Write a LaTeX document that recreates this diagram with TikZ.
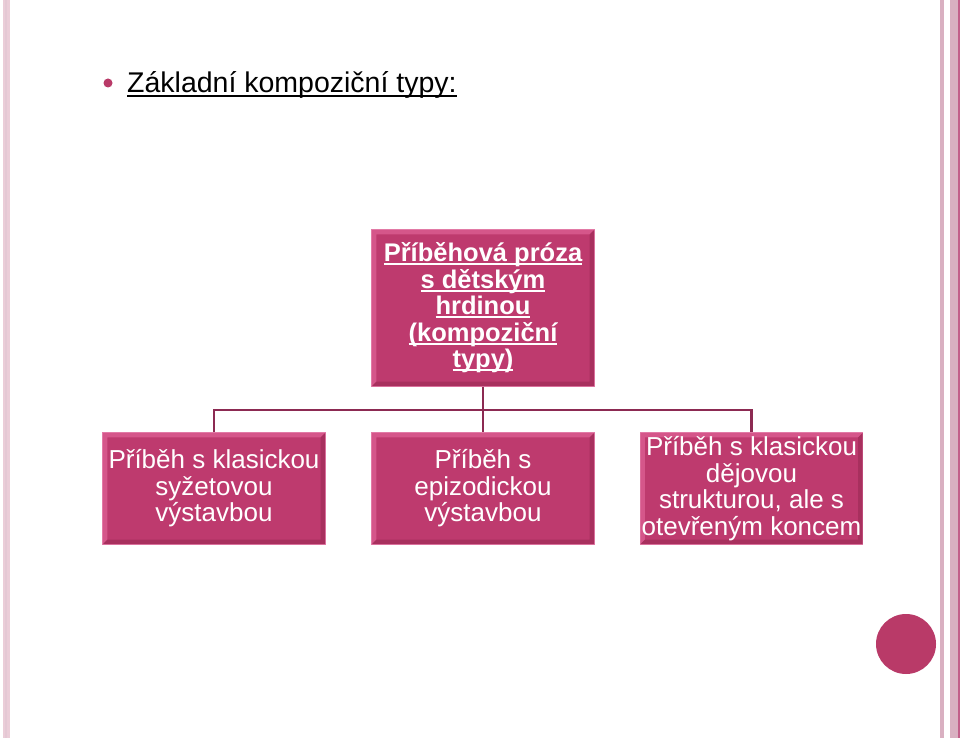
\documentclass[tikz,border=0pt]{standalone}
\usepackage{fontspec}
\setmainfont{Liberation Sans}
\newsavebox\ulbox
\newcommand\myul[1]{\sbox\ulbox{#1}\rlap{\rule[-0.13em]{\wd\ulbox}{0.07em}}\usebox\ulbox}
\definecolor{boxfill}{HTML}{BE3A6E}
\definecolor{boxedge}{HTML}{E27AA6}
\definecolor{bevlight}{HTML}{D5568A}
\definecolor{bevdark}{HTML}{A8305E}
\definecolor{linkcol}{HTML}{8C2A52}
\definecolor{dotcol}{HTML}{B93A68}
\definecolor{stripeA}{HTML}{EBCDD8}
\definecolor{stripeB}{HTML}{D9B0C1}
\definecolor{stripeC}{HTML}{C2608A}
\tikzset{
  pinkbox/.style={draw=boxedge, line width=1.2pt, fill=boxfill, text=white,
    minimum width=222pt, minimum height=111pt, inner sep=0pt, align=center,
    font=\fontsize{26}{26.5}\selectfont},
  topbox/.style={pinkbox, minimum height=156pt, font=\fontsize{25.5}{26.5}\selectfont\bfseries},
  link/.style={draw=linkcol, line width=2.8pt}
}
\newcommand\bevel[1]{%
  \fill[bevlight] ([shift={(0.6,0.6)}]#1.north west) -- ([shift={(-0.6,0.6)}]#1.north east)
     -- ([shift={(-5,5)}]#1.north east) -- ([shift={(5,5)}]#1.north west)
     -- ([shift={(5,-5)}]#1.south west) -- ([shift={(0.6,-0.6)}]#1.south west) -- cycle;
  \fill[bevdark] ([shift={(-0.6,-0.6)}]#1.south east) -- ([shift={(0.6,-0.6)}]#1.south west)
     -- ([shift={(5,-5)}]#1.south west) -- ([shift={(-5,-5)}]#1.south east)
     -- ([shift={(-5,5)}]#1.north east) -- ([shift={(-0.6,0.6)}]#1.north east) -- cycle;
}
\begin{document}
\begin{tikzpicture}[x=1pt,y=-1pt]
\useasboundingbox (0,0) rectangle (960,738);
\fill[white] (0,0) rectangle (960,738);
% left stripe
\fill[stripeA] (3,0) rectangle (10,738);
\fill[stripeB!70!white] (5,0) rectangle (7,738);
% right stripes
\fill[stripeB] (940,0) rectangle (944,738);
\fill[stripeB] (950,0) rectangle (958,738);
\fill[stripeC] (957.5,0) rectangle (959.5,738);
% title
\fill[dotcol] (108,83) circle (4.5);
\node[anchor=base west, inner sep=0pt, font=\fontsize{28.5}{32}\selectfont] (title) at (127,93) {\myul{Základní kompoziční typy:}};
% boxes
\node[topbox] (top) at (483,308) {};
\node[pinkbox] (b1) at (214,488.5) {};
\node[pinkbox] (b2) at (483,488.5) {};
\node[pinkbox] (b3) at (751.5,488.5) {};
\bevel{top}\bevel{b1}\bevel{b2}\bevel{b3}
\node[topbox, draw=none, fill=none] (topt) at (top) {\myul{Příběhová próza}\\\myul{s dětským}\\\myul{hrdinou}\\\myul{(kompoziční}\\\myul{typy)}};
\node[pinkbox, draw=none, fill=none] (b1t) at (b1) {Příběh s klasickou\\syžetovou\\výstavbou};
\node[pinkbox, draw=none, fill=none] (b2t) at (b2) {Příběh s\\epizodickou\\výstavbou};
\node[pinkbox, draw=none, fill=none] (b3t) at (b3) {Příběh s klasickou\\dějovou\\strukturou, ale s\\otevřeným koncem};
% connectors
\coordinate (hub) at (483,410);
\draw[link] (top.south) -- (hub);
\draw[link] (b1.north) |- (hub) -| (b3.north);
\draw[link] (hub) -- (b2.north);
% decorative dot
\fill[dotcol] (906,644) circle (30);
\end{tikzpicture}
\end{document}
